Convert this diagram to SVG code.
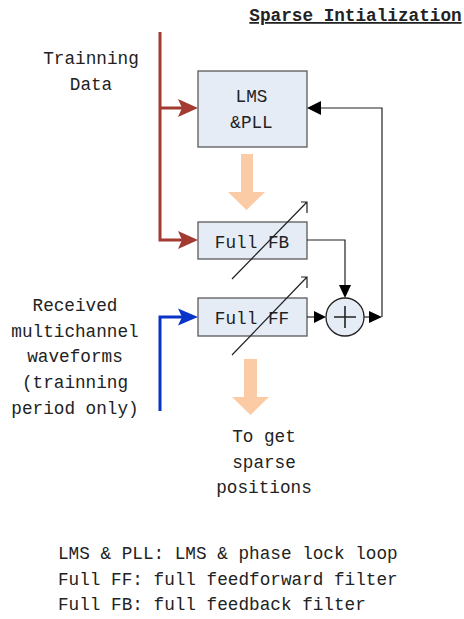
<svg xmlns="http://www.w3.org/2000/svg" width="464" height="619" viewBox="0 0 464 619">
<style>
text{font-family:"Liberation Mono","DejaVu Sans Mono",monospace;font-size:17.7px;fill:#222}
.c{text-anchor:middle}
.box{fill:#e6ecf6;stroke:#5a5a5a;stroke-width:1.3}
.red{fill:none;stroke:#a33b32;stroke-width:3}
.blue{fill:none;stroke:#0a33c8;stroke-width:3}
.ln{fill:none;stroke:#222;stroke-width:1.2}
.peach{fill:#facba5}
.ah{fill:#000}
</style>
<rect width="464" height="619" fill="#fff"/>
<text id="title" x="355.5" y="21" class="c" font-weight="bold" text-decoration="underline">Sparse Intialization</text>
<g id="training-label"><text x="91" y="64" class="c">Trainning</text><text x="91" y="90" class="c">Data</text></g>
<g id="received-label">
<text x="75" y="311" class="c">Received</text>
<text x="75" y="337" class="c">multichannel</text>
<text x="75" y="362" class="c">waveforms</text>
<text x="75" y="388" class="c">(trainning</text>
<text x="75" y="414" class="c">period only)</text>
</g>
<g id="lms-pll"><rect class="box" x="198" y="71" width="109" height="76"/><text x="251.5" y="102" class="c">LMS</text><text x="251.5" y="128" class="c">&amp;PLL</text></g>
<g id="full-fb"><rect class="box" x="198" y="222" width="109" height="37"/><text x="252" y="248" class="c">Full FB</text></g>
<g id="full-ff"><rect class="box" x="198" y="298" width="109" height="38"/><text x="252" y="324" class="c">Full FF</text></g>
<g id="sum"><circle cx="345" cy="317" r="19" fill="#e6ecf6" stroke="#222" stroke-width="1.3"/><path d="M334 317H356M345 306V328" stroke="#222" stroke-width="1.6"/></g>
<g id="output-label"><text x="264" y="442" class="c">To get</text><text x="264" y="468" class="c">sparse</text><text x="264" y="493" class="c">positions</text></g>
<g id="legend">
<text x="58" y="559">LMS &amp; PLL: LMS &amp; phase lock loop</text>
<text x="58" y="585">Full FF: full feedforward filter</text>
<text x="58" y="610">Full FB: full feedback filter</text>
</g>
<g id="connectors">
<path class="red" d="M160 32V240H182M160 108H182"/>
<polygon fill="#a33b32" points="198,108 178,99 182,108 178,117"/>
<polygon fill="#a33b32" points="198,240 178,231 182,240 178,249"/>
<path class="blue" d="M160 411V317H182"/>
<polygon fill="#0a33c8" points="198,317 178,308.5 182,317 178,325.5"/>
<polygon class="peach" points="241,154 253,154 253,192 265,192 246.5,210 228,192 241,192"/>
<polygon class="peach" points="244,359 257,359 257,397 269,397 250.5,415 232,397 244,397"/>
<path class="ln" d="M307 240H345V286" stroke="#555"/>
<polygon class="ah" points="345,298 339,285 351,285"/>
<path class="ln" d="M307 317H315"/>
<polygon class="ah" points="326,317 314,311 314,323"/>
<path class="ln" d="M364 317H371"/>
<path class="ln" d="M382 317V108H320"/>
<polygon class="ah" points="382,317 369,311 369,323"/>
<polygon class="ah" points="307,108 321,101 321,115"/>
<path class="ln" d="M232 279L307 202M301 202H307V213"/>
<path class="ln" d="M232 355L307 277M301 277H307V288"/>
</g>
</svg>
